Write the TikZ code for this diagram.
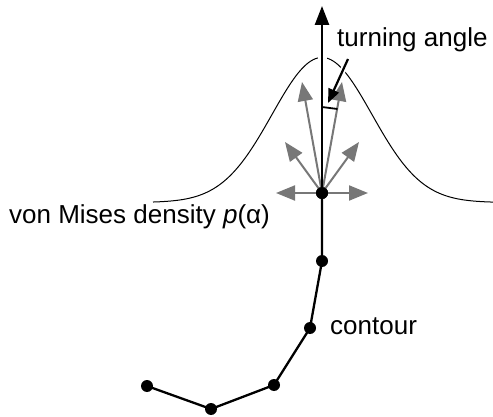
\documentclass[tikz,border=0pt]{standalone}
\usepackage{fontspec}
\setmainfont{Liberation Sans}
\usetikzlibrary{arrows.meta,calc}
\definecolor{arrgray}{HTML}{777777}
\tikzset{
  dot/.style={circle,fill=black,inner sep=0pt,minimum size=12pt},
  contourline/.style={line width=2.3pt,black},
  grayarrow/.style={line width=2pt,arrgray,-{Triangle[length=19pt,width=15pt]}},
  label/.style={font=\fontsize{26}{30}\selectfont,inner sep=0pt},
  knockout/.style={line width=9pt,white},
}
\begin{document}
\begin{tikzpicture}[x=1pt,y=-1pt]
\useasboundingbox (0,0) rectangle (493,417);
% von Mises density curve
\draw[line width=1pt] plot[domain=153:493,samples=200] (\x,{202.5-145*exp(-0.5*((\x-322)/50)^2)});
% contour points
\node[dot] (p0) at (147,386) {};
\node[dot] (p1) at (211,409) {};
\node[dot] (p2) at (274,385) {};
\node[dot] (p3) at (310,328) {};
\node[dot] (p4) at (322,261) {};
\node[dot] (p5) at (322,193) {};
\draw[contourline] (p0.center) -- (p1.center) -- (p2.center) -- (p3.center) -- (p4.center) -- (p5.center);
% coordinates
\coordinate (top) at (322,6);
\coordinate (kt) at (322,45);
\coordinate (kb) at (322,75);
\coordinate (gl0) at (276,193);
\coordinate (gr0) at (368,193);
\coordinate (gl1) at (285,142);
\coordinate (gr1) at (359,142);
\coordinate (gl2) at (302,82);
\coordinate (gr2) at (342,82);
\coordinate (ptrs) at (348,59);
\coordinate (ptre) at (328,103);
% white gaps in the curve
\draw[knockout] (kt) -- (kb);
\draw[line width=6pt,white] (ptrs) -- ($(ptrs)!0.4!(ptre)$);
% gray arrows
\foreach \t in {gl0,gr0,gl1,gr1,gl2,gr2}
  \draw[grayarrow] (p5.center) -- (\t);
% main arrow
\draw[line width=2.5pt,-{Triangle[length=19pt,width=14pt]}] (p5.center) -- (top);
\node[dot] at (p5) {};
% angle mark
\coordinate (am1) at (322,107);
\coordinate (am2) at (337.5,109);
\draw[line width=1.8pt] (am1) -- (am2);
% labels
\node[label,anchor=base west] (ta) at (337,47) {turning angle};
\node[label,anchor=base west] (vm) at (9,223) {von Mises density \textit{p}(α)};
\node[label,anchor=base west] (ct) at (330,334) {contour};
% pointer arrow
\draw[line width=2.2pt,-{Triangle[length=14pt,width=11pt]}] (ptrs) -- (ptre);
\end{tikzpicture}
\end{document}
